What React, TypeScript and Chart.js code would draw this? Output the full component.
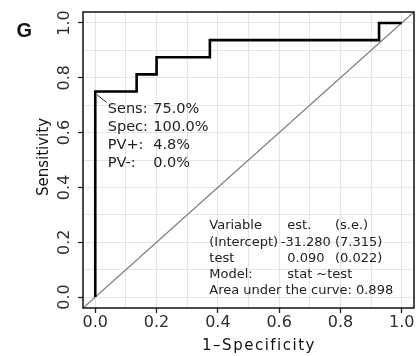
import React, { useEffect, useRef } from 'react';
import { Chart, registerables } from 'chart.js';

Chart.register(...registerables);

// ROC curve corners (1 - specificity, sensitivity)
const FPR = [0, 0, 0.135, 0.2, 0.374, 0.926, 1];
const SENS = [0, 0.75, 0.8125, 0.875, 0.9375, 1, 1];
// reference diagonal (abline across the panel)
const REF_LINE = [-0.04, 1.04];
const AXIS_MIN = -0.04;
const AXIS_MAX = 1.04;
const GRID_TICKS = [0, 0.1, 0.2, 0.3, 0.4, 0.5, 0.6, 0.7, 0.8, 0.9, 1.0];
const LABELED_TICKS = [0, 0.2, 0.4, 0.6, 0.8, 1.0];

const PANEL_LABEL = 'G';
const X_TITLE = '1\u2013Specificity';
const Y_TITLE = 'Sensitivity';

// optimal cut point
const CUT_FPR = 0;
const CUT_SENS = 0.75;
const STAT_NAMES = ['Sens:', 'Spec:', 'PV+:', 'PV-:'];
const STAT_VALUES = ['75.0%', '100.0%', '4.8%', '0.0%'];

const TABLE_COL1 = ['Variable', '(Intercept)', 'test', 'Model:'];
const TABLE_COL2 = ['est.', '-31.280', '0.090', 'stat ~test'];
const TABLE_COL3 = ['(s.e.)', '(7.315)', '(0.022)', ''];
const AUC_LINE = 'Area under the curve: 0.898';

const FONT = '"DejaVu Sans", "Bitstream Vera Sans", Verdana, sans-serif';

const isLabeled = (v: number) => LABELED_TICKS.some((t) => Math.abs(t - v) < 1e-6);

const overlay = {
  id: 'overlay',
  afterDraw(chart: any) {
    const { ctx, chartArea: a, scales } = chart;
    const xs = scales.x;
    const ys = scales.y;
    ctx.save();
    // panel border
    ctx.strokeStyle = '#111';
    ctx.lineWidth = 1.5;
    ctx.strokeRect(a.left, a.top, a.right - a.left, a.bottom - a.top);

    // panel letter
    ctx.fillStyle = '#111';
    ctx.textAlign = 'left';
    ctx.textBaseline = 'alphabetic';
    ctx.font = 'bold 20px "Liberation Sans", Arial, sans-serif';
    ctx.fillText(PANEL_LABEL, 16.5, 36.7);

    // leader line from cut point to text
    const px = xs.getPixelForValue(CUT_FPR);
    const py = ys.getPixelForValue(CUT_SENS);
    ctx.strokeStyle = '#222';
    ctx.lineWidth = 1;
    ctx.beginPath();
    ctx.moveTo(px + 2, py + 3.5);
    ctx.lineTo(px + 11.5, py + 11);
    ctx.stroke();

    // stats text
    ctx.fillStyle = '#222';
    ctx.font = `14.5px ${FONT}`;
    STAT_NAMES.forEach((t, i) => {
      ctx.fillText(t, px + 12.5, py + 22 + i * 18);
      ctx.fillText(STAT_VALUES[i], px + 58, py + 22 + i * 18);
    });

    // model table
    ctx.font = `13px ${FONT}`;
    const tx = 209.3;
    const ty = 229.3;
    const lh = 16.2;
    TABLE_COL1.forEach((t, i) => {
      ctx.fillText(t, tx, ty + i * lh);
      const v = TABLE_COL2[i];
      ctx.fillText(v, v.startsWith('-') ? 280.7 : 287.3, ty + i * lh);
      ctx.fillText(TABLE_COL3[i], 335, ty + i * lh);
    });
    ctx.fillText(AUC_LINE, tx, ty + 4 * lh);

    // axis titles
    ctx.fillStyle = '#111';
    ctx.font = `15px ${FONT}`;
    ctx.textAlign = 'center';
    (ctx as any).letterSpacing = '1.5px';
    ctx.fillText(X_TITLE, 259, 349.5);
    (ctx as any).letterSpacing = '0px';
    ctx.translate(47.5, 157);
    ctx.rotate(-Math.PI / 2);
    ctx.fillText(Y_TITLE, 0, 0);
    ctx.restore();
  },
};

function axisOptions(isY: boolean) {
  return {
    type: 'linear' as const,
    min: AXIS_MIN,
    max: AXIS_MAX,
    afterBuildTicks: (scale: any) => {
      scale.ticks = GRID_TICKS.map((v) => ({ value: v }));
    },
    afterFit: (scale: any) => {
      if (isY) scale.width = 83;
      else scale.height = 48;
    },
    border: { display: false },
    grid: {
      color: '#e4e4e4',
      lineWidth: 1,
      drawTicks: true,
      tickLength: 5,
      tickWidth: 1.3,
      tickColor: (c: any) => (c.tick && isLabeled(c.tick.value) ? '#222' : 'rgba(0,0,0,0)'),
    },
    ticks: {
      autoSkip: false,
      color: '#2e2e2e',
      font: { family: FONT, size: 16 },
      padding: isY ? 0.5 : 0,
      ...(isY ? { minRotation: 90, maxRotation: 90, crossAlign: 'center' as const } : { maxRotation: 0 }),
      callback: (v: any) => (isLabeled(Number(v)) ? Number(v).toFixed(1) : ''),
    },
  };
}

export default function App() {
  const ref = useRef<HTMLCanvasElement>(null);
  useEffect(() => {
    if (!ref.current) return;
    const chart = new Chart(ref.current, {
      type: 'scatter',
      data: {
        datasets: [
          {
            label: 'ROC',
            data: FPR.map((x, i) => ({ x, y: SENS[i] })),
            showLine: true,
            stepped: true,
            borderColor: '#000',
            borderWidth: 2.6,
            borderJoinStyle: 'miter',
            pointRadius: 0,
            fill: false,
          },
          {
            label: 'diag',
            data: REF_LINE.map((v) => ({ x: v, y: v })),
            showLine: true,
            borderColor: '#7a7a7a',
            borderWidth: 1.3,
            pointRadius: 0,
            fill: false,
          },
        ],
      },
      options: {
        animation: false,
        responsive: false,
        layout: { padding: { left: 0, top: 12, right: 6, bottom: 0 } },
        plugins: { legend: { display: false }, tooltip: { enabled: false }, title: { display: false } },
        scales: {
          x: axisOptions(false),
          y: axisOptions(true),
        },
      },
      plugins: [overlay],
    });
    return () => chart.destroy();
  }, []);
  return (
    <div style={{ position: 'absolute', left: 0, top: 0, width: 420, height: 356, background: '#fff' }}>
      <canvas ref={ref} width={420} height={356} style={{ display: 'block' }} />
    </div>
  );
}
